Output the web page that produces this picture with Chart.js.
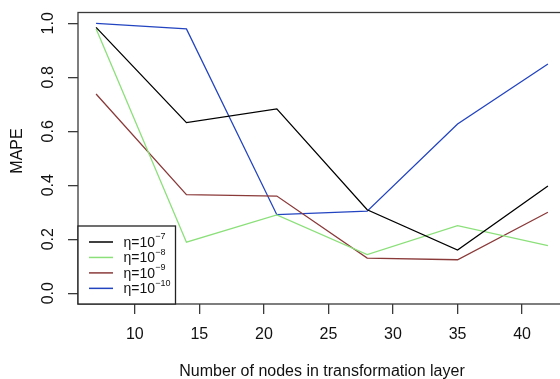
<!DOCTYPE html>
<html>
<head>
<meta charset="utf-8">
<script src="https://cdn.jsdelivr.net/npm/chart.js@4/dist/chart.umd.min.js"></script>
<style>
  html, body { margin: 0; padding: 0; background: #fff; overflow: hidden; }
  #wrap { position: absolute; left: 0; top: 0; width: 580px; height: 379px; }
</style>
</head>
<body>
<div id="wrap"><canvas id="c" width="580" height="379"></canvas></div>
<script>
// Number of nodes in the transformation layer
const nodes = [7, 14, 21, 28, 35, 42];
// MAPE for each learning rate eta
const mapeEta7  = [0.985, 0.632, 0.683, 0.309, 0.160, 0.397];
const mapeEta8  = [0.980, 0.189, 0.290, 0.143, 0.250, 0.176];
const mapeEta9  = [0.738, 0.365, 0.360, 0.130, 0.124, 0.300];
const mapeEta10 = [1.000, 0.979, 0.291, 0.304, 0.627, 0.849];
const etaExponents = ['\u22127', '\u22128', '\u22129', '\u221210'];
const xTicks = [10, 15, 20, 25, 30, 35, 40];
const yTicks = [0.0, 0.2, 0.4, 0.6, 0.8, 1.0];

const FONT = '"Liberation Sans", Arial, Helvetica, sans-serif';
const colors = ['#000000', '#8be07a', '#8b3a3a', '#2344c0'];
const seriesValues = [mapeEta7, mapeEta8, mapeEta9, mapeEta10];

const datasets = seriesValues.map((vals, i) => ({
  label: '\u03b7=10' + etaExponents[i],
  data: nodes.map((n, k) => ({ x: n, y: vals[k] })),
  borderColor: colors[i],
  borderWidth: 1.3,
  pointRadius: 0,
  fill: false,
  tension: 0
}));

// Base-graphics look: framed plot box, rotated y labels, boxed legend
const baseStyle = {
  id: 'baseStyle',
  afterDraw(chart) {
    const { ctx, chartArea: a, scales: { x, y } } = chart;
    ctx.save();
    ctx.strokeStyle = '#3a3a3a';
    ctx.lineWidth = 1.3;
    ctx.strokeRect(a.left, a.top, a.right - a.left, a.bottom - a.top);

    ctx.fillStyle = '#111';
    ctx.font = '16px ' + FONT;
    ctx.textAlign = 'center';
    ctx.textBaseline = 'middle';
    y.ticks.forEach(t => {
      const py = y.getPixelForValue(t.value);
      ctx.save();
      ctx.translate(a.left - 29, py);
      ctx.rotate(-Math.PI / 2);
      ctx.fillText(t.value.toFixed(1), 0, 0);
      ctx.restore();
    });

    // axis titles
    ctx.save();
    ctx.translate(18, 151);
    ctx.rotate(-Math.PI / 2);
    ctx.fillText('MAPE', 0, 0);
    ctx.restore();
    ctx.fillText('Number of nodes in transformation layer', (a.left + a.right) / 2, 372);

    // legend
    const lx = a.left, ly = 226, lw = 97.5, lh = a.bottom - 226;
    ctx.fillStyle = '#fff';
    ctx.fillRect(lx, ly, lw, lh);
    ctx.strokeStyle = '#222';
    ctx.strokeRect(lx, ly, lw, lh);
    chart.data.datasets.forEach((ds, i) => {
      const ry = 242 + i * 15.45;
      ctx.strokeStyle = ds.borderColor;
      ctx.lineWidth = 1.5;
      ctx.beginPath();
      ctx.moveTo(lx + 11, ry);
      ctx.lineTo(lx + 35, ry);
      ctx.stroke();
      ctx.fillStyle = '#111';
      ctx.textAlign = 'left';
      ctx.textBaseline = 'middle';
      ctx.font = '14px ' + FONT;
      const base = '\u03b7=10';
      ctx.fillText(base, lx + 45.5, ry + 1);
      const w = ctx.measureText(base).width;
      ctx.font = '9px ' + FONT;
      ctx.fillText(etaExponents[i], lx + 45.5 + w + 0.3, ry - 5);
    });
    ctx.restore();
  }
};

new Chart(document.getElementById('c'), {
  type: 'line',
  data: { datasets },
  options: {
    responsive: false,
    devicePixelRatio: 1,
    animation: false,
    events: [],
    layout: { padding: { left: 0, top: 12.5, right: 14, bottom: 0 } },
    plugins: { legend: { display: false }, tooltip: { enabled: false } },
    scales: {
      x: {
        type: 'linear',
        min: 5.6,
        max: 43.4,
        afterBuildTicks: s => { s.ticks = xTicks.map(v => ({ value: v })); },
        afterFit: s => { s.height = 75; },
        border: { display: false },
        grid: { drawOnChartArea: false, drawTicks: true, tickLength: 10, color: '#3a3a3a', lineWidth: 1.3 },
        ticks: { color: '#111', font: { family: FONT, size: 16 }, padding: 11, maxRotation: 0, minRotation: 0 }
      },
      y: {
        type: 'linear',
        min: -0.04,
        max: 1.04,
        afterBuildTicks: s => { s.ticks = yTicks.map(v => ({ value: v })); },
        afterFit: s => { s.width = 78; },
        border: { display: false },
        grid: { drawOnChartArea: false, drawTicks: true, tickLength: 10, color: '#3a3a3a', lineWidth: 1.3 },
        ticks: { display: false }
      }
    }
  },
  plugins: [baseStyle]
});
</script>
</body>
</html>
